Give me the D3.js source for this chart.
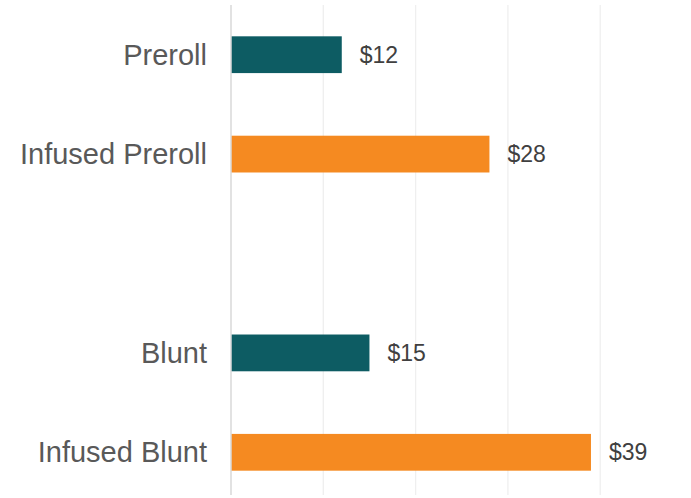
<!DOCTYPE html>
<html>
<head>
<meta charset="utf-8">
<script src="https://cdn.jsdelivr.net/npm/d3@7"></script>
<style>
	body { margin: 0; background: #fff; }
	text { font-family: "Liberation Sans", Arial, sans-serif; }
</style>
</head>
<body>
<div id="container"></div>
<script>
	// categories, with an empty slot between the two groups
	const categories=["Preroll", "Infused Preroll", "", "Blunt", "Infused Blunt"];
	const prices=[12, 28, null, 15, 39];
	const barColors=["#0d5c63", "#f58a21", null, "#0d5c63", "#f58a21"];
	const gridTicks=[10, 20, 30, 40, 50];

	const w=691;
	const h=498;

	const svg=d3.select("#container").append("svg").attr("width", w).attr("height", h);

	const xScale=d3.scaleLinear().domain([0, 50]).range([231, 692.5]);
	const yScale=d3.scaleBand()
		.domain(d3.range(categories.length))
		.range([5, 502])
		.paddingInner(0.63)
		.paddingOuter(0.315);

	//gridlines
	svg.append("g").selectAll("line")
		.data(gridTicks)
		.enter()
		.append("line")
			.attr("x1", (d) => xScale(d))
			.attr("x2", (d) => xScale(d))
			.attr("y1", 5)
			.attr("y2", 495)
			.attr("stroke", "#efefef")
			.attr("stroke-width", 1.3);

	const rows=categories.map((c, i) => ({name: c, value: prices[i], color: barColors[i], i: i}))
		.filter((d) => d.value !== null);

	svg.append("g").selectAll("rect")
		.data(rows)
		.enter()
		.append("rect")
			.attr("x", xScale(0))
			.attr("y", (d) => yScale(d.i))
			.attr("width", (d) => xScale(d.value) - xScale(0))
			.attr("height", yScale.bandwidth())
			.attr("fill", (d) => d.color);

	// axis line
	svg.append("line")
		.attr("x1", xScale(0))
		.attr("x2", xScale(0))
		.attr("y1", 5)
		.attr("y2", 495)
		.attr("stroke", "#d9d9d9")
		.attr("stroke-width", 1.5);

	svg.append("g").selectAll("text")
		.data(rows)
		.enter()
		.append("text")
			.attr("x", 207)
			.attr("y", (d) => yScale(d.i) + yScale.bandwidth()/2)
			.attr("dy", "0.35em")
			.attr("text-anchor", "end")
			.attr("font-size", 29)
			.attr("fill", "#595959")
			.text((d) => d.name);

	svg.append("g").selectAll("text")
		.data(rows)
		.enter()
		.append("text")
			.attr("x", (d) => xScale(d.value) + 18)
			.attr("y", (d) => yScale(d.i) + yScale.bandwidth()/2)
			.attr("dy", "0.35em")
			.attr("font-size", 23)
			.attr("fill", "#404040")
			.text((d) => "$" + d.value);
</script>
</body>
</html>
